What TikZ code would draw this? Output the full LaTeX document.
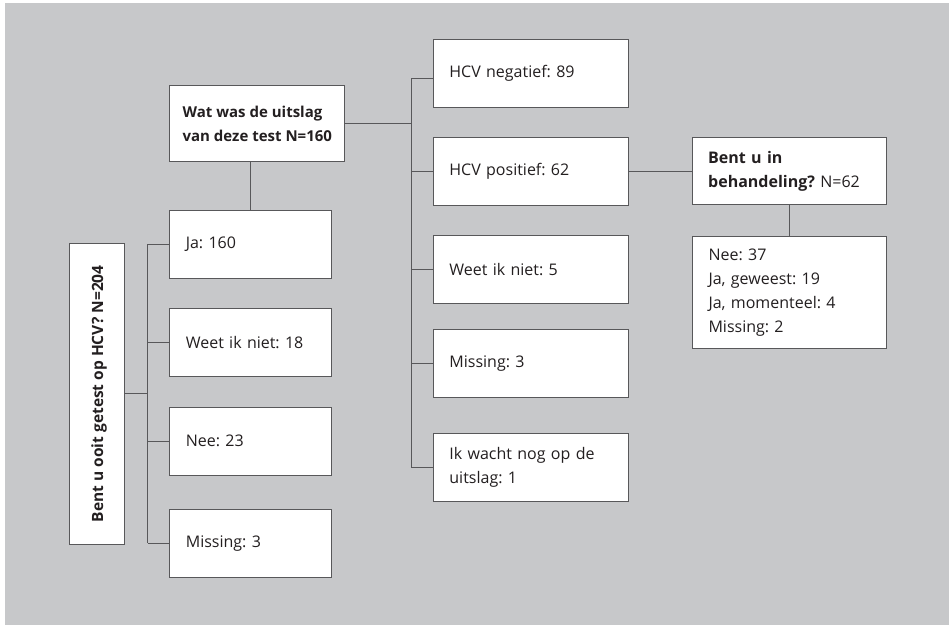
\documentclass[tikz,border=0pt]{standalone}
\usepackage{fontspec}
\setmainfont{Open Sans}
\usetikzlibrary{calc}
\definecolor{bg}{RGB}{199,200,202}
\definecolor{ln}{RGB}{88,88,90}
\definecolor{tx}{RGB}{35,31,32}
\frenchspacing
\begin{document}
\begin{tikzpicture}[x=1pt,y=-1pt,
  box/.style={draw=ln, line width=1pt, fill=white, text=tx, inner xsep=16pt, inner ysep=0pt,
    align=left, font=\fontsize{16}{24}\selectfont, anchor=north west},
  conn/.style={draw=ln, line width=1pt}]
\useasboundingbox (0,0) rectangle (949,625);
\fill[white] (0,0) rectangle (949,625);
\fill[bg] (5,3) rectangle (949,625);

% left question
\node[draw=ln, line width=1pt, fill=white, anchor=north west, minimum width=55.3pt, minimum height=301pt, inner sep=0pt] (q) at (69,242.7) {};
\node[rotate=90, text=tx, font=\fontsize{15.5}{24}\selectfont\bfseries] (qt) at ($(q.center)+(2,0)$) {Bent u ooit getest op HCV? N=204};

% column 2
\node[box, text width=129.4pt, minimum height=68pt] (ja) at (169.3,209.7) {Ja: 160};
\node[box, text width=129.4pt, minimum height=68pt] (weet) at (169.3,308.3) {Weet ik niet: 18};
\node[box, text width=129.4pt, minimum height=68pt] (nee) at (169.3,406.7) {Nee: 23};
\node[box, text width=129.4pt, minimum height=68pt] (miss) at (169.3,508.7) {Missing: 3};

% top question
\node[box, inner xsep=4pt, minimum width=175pt, minimum height=76pt, font=\fontsize{15}{23.5}\selectfont\bfseries] (uit) at (169.3,85.3) {Wat was de uitslag\\van deze test N=160};

% column 3
\node[box, text width=162.7pt, minimum height=68pt] (neg) at (432.9,38.7) {HCV negatief: 89};
\node[box, text width=162.7pt, minimum height=68pt] (pos) at (432.9,136.7) {HCV positief: 62};
\node[box, text width=162.7pt, minimum height=68pt] (weet2) at (432.9,235) {Weet ik niet: 5};
\node[box, text width=162.7pt, minimum height=68pt] (miss2) at (432.9,329.3) {Missing: 3};
\node[box, text width=162.7pt, minimum height=68pt] (wacht) at (432.9,432.7) {Ik wacht nog op de\\uitslag: 1};

% column 4
\node[box, text width=162.6pt, minimum height=67pt] (beh) at (691.7,137.3) {\textbf{Bent u in}\\\textbf{behandeling?} N=62};
\node[box, text width=162.3pt, minimum height=112.6pt] (res) at (692,235.7) {Nee: 37\\Ja, geweest: 19\\Ja, momenteel: 4\\Missing: 2};

% connectors: left trunk
\coordinate (t1) at (147.7,0);
\draw[conn] (q.east) -- (q.east -| t1);
\draw[conn] (ja.west -| t1) -- (miss.west -| t1);
\foreach \n in {ja,weet,nee,miss} \draw[conn] (\n.west -| t1) -- (\n.west);
\draw[conn] (ja.north) -- (ja.north |- uit.south);

% connectors: middle trunk
\coordinate (t2) at (411.2,0);
\coordinate (b1) at ($(neg.west)+(0,5.3)$);
\draw[conn] (uit.east) -- (uit.east -| t2);
\draw[conn] (b1 -| t2) -- (wacht.west -| t2);
\draw[conn] (b1 -| t2) -- (b1);
\foreach \n in {pos,weet2,miss2,wacht} \draw[conn] (\n.west -| t2) -- (\n.west);

% right
\draw[conn] (pos.east) -- (pos.east -| beh.west);
\draw[conn] (beh.south) -- (beh.south |- res.north);
\end{tikzpicture}
\end{document}
